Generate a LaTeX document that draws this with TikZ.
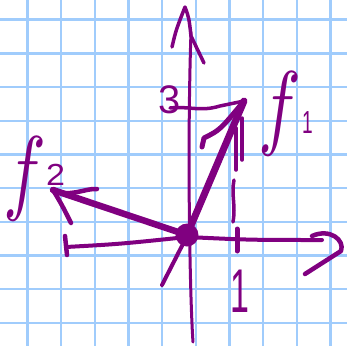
\documentclass[tikz,border=0pt]{standalone}
\usepackage{graphicx}
\usepackage{fontspec}
\newfontfamily\hand{Liberation Sans}
\definecolor{ink}{RGB}{128,0,128}
\definecolor{gridblue}{RGB}{160,204,252}
\begin{document}
\begin{tikzpicture}[x=1bp,y=-1bp,
  pen/.style={draw=ink,line width=3.5bp,line cap=round,line join=round},
  heavypen/.style={pen,line width=7bp},
  gridline/.style={draw=gridblue,line width=2.4bp},
  lbl/.style={text=ink,inner sep=0pt}]
\useasboundingbox (0,0) rectangle (347,346);
\fill[white] (0,0) rectangle (347,346);
\foreach \i in {0,...,9} {
  \draw[gridline] ({27.3+33.7*\i},0) -- ({27.3+33.7*\i},346);
  \draw[gridline] (0,{19.6+33.7*\i}) -- (347,{19.6+33.7*\i});
}
% key points
\coordinate (F1) at (244,101);
\coordinate (F2) at (53,190);
\coordinate (Ytop) at (185,7);
\coordinate (Ybot) at (193,342);
\coordinate (Xleft) at (66,247);
\coordinate (Xend) at (322,240);
\coordinate (Xtip) at (341,251);
\coordinate (LL) at (162,285);
% y axis
\draw[pen,line width=3bp] (Ybot) .. controls (190,300) and (187,150) .. (191,32);
\draw[pen] (172,47) .. controls (176,30) .. (Ytop) .. controls (189,18) .. (191,36) -- (204,63);
% x axis
\draw[pen,line width=4bp] (Xleft) .. controls (120,244) .. (187,237) .. controls (250,240) .. (Xend);
\draw[pen,line width=4.5bp] (65,236) -- (67,255);
\draw[pen,line width=4.5bp] (312,236) .. controls (330,228) and (345,240) .. (Xtip) -- (305,274);
% lower-left stroke
\draw[pen,line width=4bp] (LL) -- (186,238);
% guide lines to f1
\draw[pen] (170,108) .. controls (190,106) and (200,112) .. (220,106) .. controls (232,103) .. (F1);
\draw[pen] (236,128) -- (236,170);
\draw[pen] (242,118) -- (242,160);
\draw[pen] (234,180) .. controls (231,195) and (236,205) .. (233,222);
\draw[pen,line width=5bp] (237,229) -- (237,251);
% vectors
\node[circle,fill=ink,minimum size=23bp,inner sep=0pt] (O) at (187,235) {};
\draw[heavypen] (O.center) -- (F1);
\draw[pen,line width=5bp] (202,147) -- (204,138) .. controls (220,130) .. (F1);
\draw[heavypen,line width=6.5bp] (O.center) -- (F2);
\draw[pen,line width=4.5bp] (F2) .. controls (70,198) and (85,188) .. (97,189);
\draw[pen,line width=4.5bp] (F2) .. controls (62,205) .. (71,223);
% labels
\node[lbl,font=\hand\fontsize{40}{40}\selectfont] (three) at (170,100) {3};
\node[lbl,font=\hand\fontsize{62}{62}\selectfont] (one) at (240,291) {\scalebox{0.55}[1]{1}};
\node[lbl,anchor=base west] (f1) at (258,137) {\scalebox{7.2}[9.5]{$f$\/}\hspace{1bp}{\hand\fontsize{32}{32}\selectfont\raisebox{4bp}{\scalebox{0.6}[1]{1}}}};
\node[lbl,anchor=base west] (f2) at (3,202) {\scalebox{7.2}[9.5]{$f$\/}\hspace{0bp}{\hand\fontsize{36}{36}\selectfont\raisebox{17bp}{\scalebox{0.95}[0.85]{2}}}};
\end{tikzpicture}
\end{document}
